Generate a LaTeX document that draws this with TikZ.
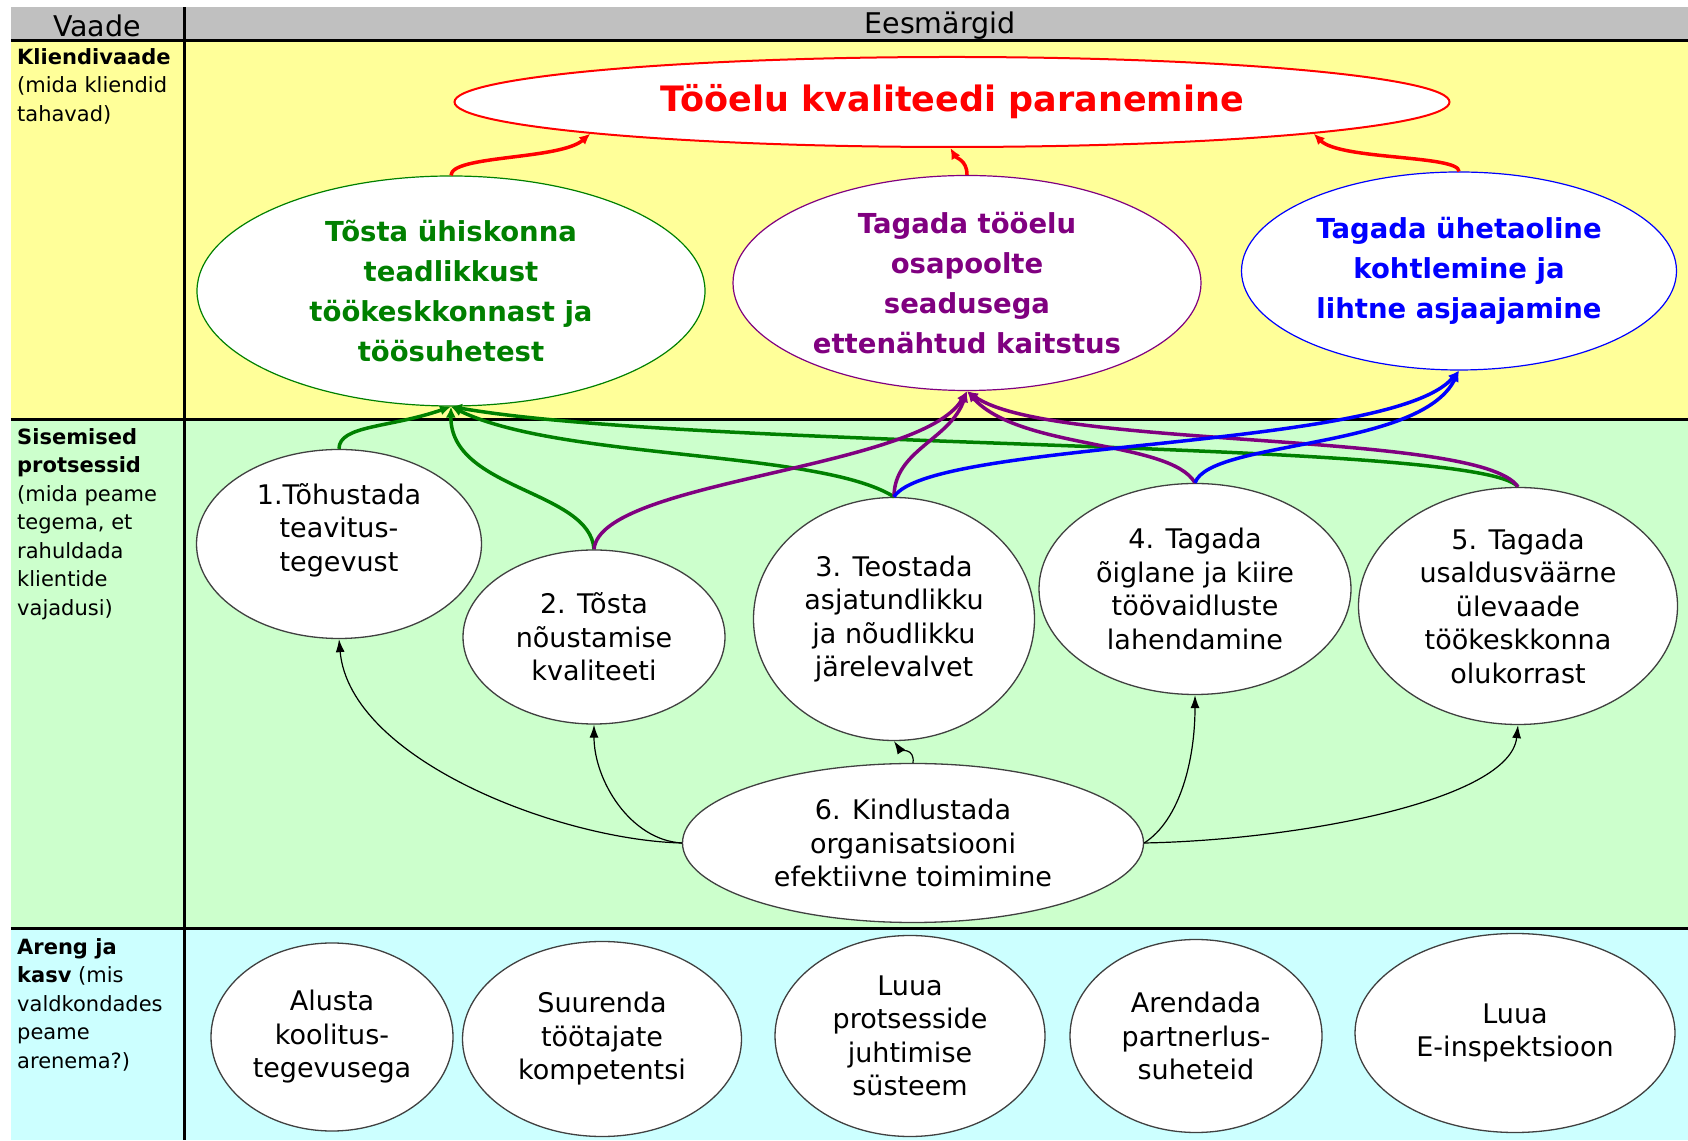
\documentclass[tikz,border=0pt]{standalone}
\usepackage{fontspec}
\setmainfont{DejaVu Sans}
\usetikzlibrary{shapes.geometric, arrows.meta}

\definecolor{hdrgray}{HTML}{C0C0C0}
\definecolor{rowyellow}{HTML}{FFFF99}
\definecolor{rowgreen}{HTML}{CCFFCC}
\definecolor{rowcyan}{HTML}{CCFFFF}
\definecolor{goalgreen}{HTML}{008000}
\definecolor{goalpurple}{HTML}{800080}
\definecolor{goalblue}{HTML}{0000FF}
\definecolor{goalred}{HTML}{FF0000}

\newcommand{\procfont}{\fontsize{27}{33.5}\selectfont}
\newcommand{\goalfont}{\bfseries\fontsize{27.5}{40}\selectfont}
\newcommand{\viewfont}{\fontsize{21}{28.5}\selectfont}

\tikzset{
    goal/.style={
        ellipse,
        draw,
        fill=white,
        line width=1.2pt,
        align=center,
        inner sep=0pt,
        font=\goalfont
    },
    proc/.style={
        ellipse,
        draw=black!75,
        fill=white,
        line width=1.3pt,
        align=center,
        inner sep=0pt,
        font=\procfont
    },
    view/.style={
        anchor=north west,
        align=left,
        inner sep=0pt,
        font=\viewfont
    },
    goalarrow/.style={
        line width=3.5pt,
        -{Latex[length=11pt,width=10pt]}
    },
    greenlink/.style={goalarrow, draw=goalgreen},
    purplelink/.style={goalarrow, draw=goalpurple},
    bluelink/.style={goalarrow, draw=goalblue},
    redlink/.style={goalarrow, draw=goalred},
    support/.style={
        draw=black,
        line width=1.2pt,
        -{Latex[length=13pt,width=9pt]}
    },
    tableline/.style={
        draw=black,
        line width=3pt
    }
}

\begin{document}
\begin{tikzpicture}[x=1pt, y=1pt]
\useasboundingbox (0,0) rectangle (1688,1140);

% table
\fill[white] (0,0) rectangle (1688,1140);
\fill[hdrgray] (10.8,1099) rectangle (1688,1132.5);
\fill[rowyellow] (10.8,720) rectangle (1688,1099);
\fill[rowgreen] (10.8,211) rectangle (1688,720);
\fill[rowcyan] (10.8,0) rectangle (1688,211);
\draw[tableline] (10.8,1099) -- (1688,1099);
\draw[tableline] (10.8,720) -- (1688,720);
\draw[tableline] (10.8,211) -- (1688,211);
\draw[tableline] (184,1132.5) -- (184,0);

\node[font=\fontsize{28.5}{30}\selectfont] (vaade) at (97,1114) {Vaade};
\node[font=\fontsize{28.5}{30}\selectfont] (eesm) at (940,1114) {Eesmärgid};

\node[view] (kliendi) at (17,1092) {\textbf{Kliendivaade}\\(mida kliendid\\tahavad)};
\node[view] (sisemised) at (17,712) {\textbf{Sisemised}\\\textbf{protsessid}\\(mida peame\\tegema, et\\rahuldada\\klientide\\vajadusi)};
\node[view] (areng) at (17,202) {\textbf{Areng ja}\\\textbf{kasv} (mis\\valdkondades\\peame\\arenema?)};

% goals
\node[goal, draw=goalred, text=goalred, line width=2pt, font=\bfseries\fontsize{35}{40}\selectfont,
      minimum width=995, minimum height=90] (top) at (952,1038) {Tööelu kvaliteedi paranemine};
\node[goal, draw=goalgreen, text=goalgreen, minimum width=508, minimum height=230] (gGreen) at (451,849)
    {Tõsta ühiskonna\\teadlikkust\\töökeskkonnast ja\\töösuhetest};
\node[goal, draw=goalpurple, text=goalpurple, minimum width=468, minimum height=215] (gPurple) at (967,857)
    {Tagada tööelu\\osapoolte\\seadusega\\ettenähtud kaitstus};
\node[goal, draw=goalblue, text=goalblue, minimum width=435, minimum height=198] (gBlue) at (1459,869)
    {Tagada ühetaoline\\kohtlemine ja\\lihtne asjaajamine};

% processes
\node[proc, minimum width=285, minimum height=189] (p1) at (339,596) {1.Tõhustada\\teavitus-\\tegevust\\~};
\node[proc, minimum width=262, minimum height=174] (p2) at (594,503) {2. Tõsta\\nõustamise\\kvaliteeti};
\node[proc, minimum width=281, minimum height=243] (p3) at (894,521) {3. Teostada\\asjatundlikku\\ja nõudlikku\\järelevalvet};
\node[proc, minimum width=312, minimum height=211] (p4) at (1195,551) {4. Tagada\\õiglane ja kiire\\töövaidluste\\lahendamine};
\node[proc, minimum width=319, minimum height=237] (p5) at (1518,534) {5. Tagada\\usaldusväärne\\ülevaade\\töökeskkonna\\olukorrast};
\node[proc, minimum width=461, minimum height=159] (p6) at (913,297) {6. Kindlustada\\organisatsiooni\\efektiivne toimimine};

% development
\node[proc, minimum width=242, minimum height=188] (d1) at (332,103) {Alusta\\koolitus-\\tegevusega};
\node[proc, minimum width=279, minimum height=195] (d2) at (602,101) {Suurenda\\töötajate\\kompetentsi};
\node[proc, minimum width=270, minimum height=201] (d3) at (910,104) {Luua\\protsesside\\juhtimise\\süsteem};
\node[proc, minimum width=252, minimum height=193] (d4) at (1196,104) {Arendada\\partnerlus-\\suheteid};
\node[proc, minimum width=320, minimum height=199] (d5) at (1515,107) {Luua\\E-inspektsioon};

% goals to top
\draw[redlink] (gGreen.north) .. controls (451,985) and (560,980) .. (top.185);
\draw[redlink] (gPurple.north) .. controls (967,980) and (956,982) .. (top.268);
\draw[redlink] (gBlue.north) .. controls (1459,985) and (1340,980) .. (top.-5);

% processes to goals
\draw[greenlink] (p1.north) .. controls (339,715) and (390,712) .. (gGreen.south);
\draw[greenlink] (p2.north) .. controls (590,650) and (450,650) .. (gGreen.south);
\draw[greenlink] (p3.north) .. controls (820,690) and (560,680) .. (gGreen.south);
\draw[greenlink] (p5.north) .. controls (1480,700) and (700,690) .. (gGreen.south);

\draw[purplelink] (p2.north) .. controls (600,660) and (920,670) .. (gPurple.south);
\draw[purplelink] (p3.north) .. controls (894,690) and (950,700) .. (gPurple.south);
\draw[purplelink] (p4.north) .. controls (1170,700) and (1020,690) .. (gPurple.south);
\draw[purplelink] (p5.north) .. controls (1480,710) and (1050,690) .. (gPurple.south);

\draw[bluelink] (p3.north) .. controls (930,700) and (1390,690) .. (gBlue.south);
\draw[bluelink] (p4.north) .. controls (1210,700) and (1420,690) .. (gBlue.south);

% support
\draw[support] (p6.west) .. controls (560,300) and (350,380) .. (p1.south);
\draw[support] (p6.west) .. controls (630,300) and (594,360) .. (p2.south);
\draw[support] (p6.north) .. controls (915,392) and (900,390) .. (p3.south);
\draw[support] (p6.east) .. controls (1180,320) and (1195,380) .. (p4.south);
\draw[support] (p6.east) .. controls (1300,300) and (1510,340) .. (p5.south);

\end{tikzpicture}
\end{document}
